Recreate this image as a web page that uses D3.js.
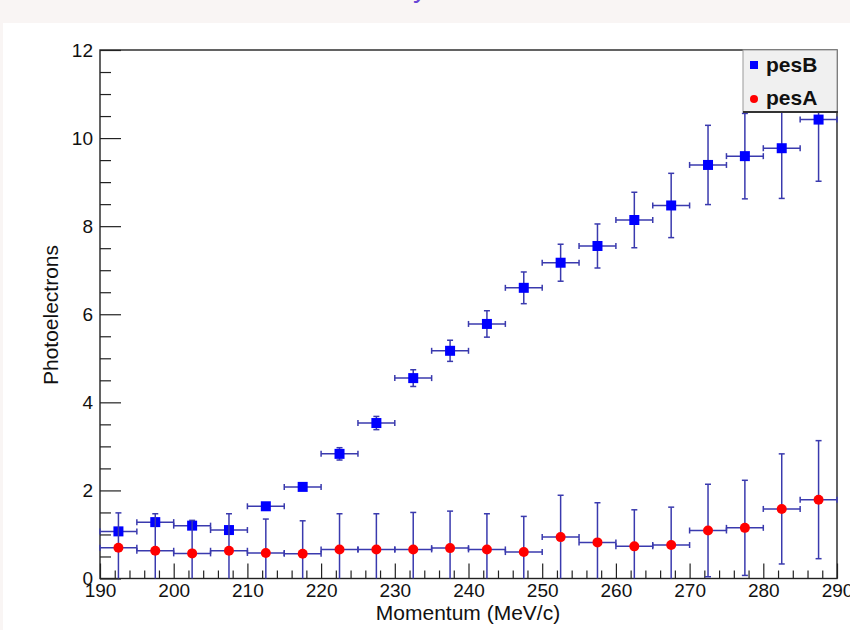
<!DOCTYPE html>
<html>
<head>
<meta charset="utf-8">
<script src="https://cdn.jsdelivr.net/npm/d3@7"></script>
<style>
  html, body { margin: 0; padding: 0; background: #f9f5f4; }
  svg { display: block; font-family: "Liberation Sans", Arial, Helvetica, sans-serif; }
</style>
</head>
<body>
<div id="chart"></div>
<script>
// bin centres (MeV/c), bin half width 2.5
const momentum = [192.5, 197.5, 202.5, 207.5, 212.5, 217.5, 222.5, 227.5, 232.5, 237.5,
  242.5, 247.5, 252.5, 257.5, 262.5, 267.5, 272.5, 277.5, 282.5, 287.5];
const binHalf = 2.5;

const pesB = [1.07, 1.28, 1.20, 1.10, 1.64, 2.08, 2.83, 3.53, 4.55, 5.17,
  5.78, 6.60, 7.17, 7.55, 8.14, 8.47, 9.39, 9.59, 9.77, 10.42];
const pesBErr = [0.08, 0.08, 0.08, 0.08, 0.06, 0.06, 0.14, 0.15, 0.19, 0.24,
  0.30, 0.36, 0.42, 0.50, 0.63, 0.73, 0.90, 0.97, 1.14, 1.40];

const pesA = [0.70, 0.63, 0.57, 0.63, 0.58, 0.56, 0.66, 0.66, 0.66, 0.69,
  0.66, 0.60, 0.94, 0.82, 0.73, 0.76, 1.09, 1.15, 1.58, 1.79];
const pesAErr = [0.79, 0.84, 0.75, 0.84, 0.77, 0.75, 0.81, 0.81, 0.84, 0.84,
  0.81, 0.81, 0.95, 0.90, 0.83, 0.86, 1.05, 1.08, 1.25, 1.34];

const xMajor = [190, 200, 210, 220, 230, 240, 250, 260, 270, 280, 290];
const yMajor = [0, 2, 4, 6, 8, 10, 12];

const svg = d3.select("#chart").append("svg")
  .attr("width", 850)
  .attr("height", 630);

// white canvas of the slide
svg.append("rect")
  .attr("x", 3).attr("y", 23)
  .attr("width", 847).attr("height", 607)
  .attr("fill", "#fff");

// bit of the slide title that is cut off at the top
svg.append("text")
  .attr("x", 413).attr("y", -3)
  .attr("font-size", 28)
  .attr("fill", "#6846d6")
  .text("y");

const x = d3.scaleLinear().domain([190, 290]).range([100, 837]);
const y = d3.scaleLinear().domain([0, 12]).range([578.5, 50]);

// minor ticks
const yMinor = d3.range(0, 12, 0.5).filter((v) => v % 2 !== 0);
const xMinor = d3.range(190, 290, 2).filter((v) => v % 10 !== 0);

svg.append("g")
  .attr("transform", "translate(100,0)")
  .call(d3.axisLeft(y).tickValues(yMinor).tickSize(-11).tickFormat(""))
  .call((g) => g.select(".domain").remove());

svg.append("g")
  .attr("transform", "translate(0,578.5)")
  .call(d3.axisBottom(x).tickValues(xMinor).tickSize(-8).tickFormat(""))
  .call((g) => g.select(".domain").remove());

// major ticks + labels
const yAxis = svg.append("g")
  .attr("transform", "translate(100,0)")
  .call(d3.axisLeft(y).tickValues(yMajor).tickSize(-21).tickPadding(7))
  .call((g) => g.select(".domain").remove());

const xAxis = svg.append("g")
  .attr("transform", "translate(0,578.5)")
  .call(d3.axisBottom(x).tickValues(xMajor).tickSize(-15).tickPadding(5))
  .call((g) => g.select(".domain").remove());

svg.selectAll(".tick line").attr("stroke", "#222").attr("stroke-width", 1.2);
[xAxis, yAxis].forEach((a) =>
  a.selectAll("text")
    .attr("font-family", "Liberation Sans, Arial, sans-serif")
    .attr("font-size", 19)
    .attr("fill", "#111")
);

// frame
svg.append("rect")
  .attr("x", 100).attr("y", 50)
  .attr("width", 737).attr("height", 528.5)
  .attr("fill", "none")
  .attr("stroke", "#222")
  .attr("stroke-width", 1.4);

// axis titles
svg.append("text")
  .attr("x", 468).attr("y", 620)
  .attr("text-anchor", "middle")
  .attr("font-size", 21)
  .attr("fill", "#111")
  .text("Momentum (MeV/c)");

svg.append("text")
  .attr("transform", "translate(58,315) rotate(-90)")
  .attr("text-anchor", "middle")
  .attr("font-size", 21)
  .attr("fill", "#111")
  .text("Photoelectrons");

// error bars + markers
const errColor = "#3a3aae";
const cap = 3;

function drawSeries(values, errs, marker) {
  const rows = momentum.map((m, i) => ({ m: m, v: values[i], e: errs[i] }));
  const g = svg.append("g");

  const eb = g.selectAll(".eb").data(rows).enter().append("g")
    .attr("stroke", errColor)
    .attr("stroke-width", 1.5)
    .attr("fill", "none");

  // horizontal (bin width)
  eb.append("line")
    .attr("x1", (d) => x(d.m - binHalf)).attr("x2", (d) => x(d.m + binHalf))
    .attr("y1", (d) => y(d.v)).attr("y2", (d) => y(d.v));
  eb.append("line")
    .attr("x1", (d) => x(d.m - binHalf)).attr("x2", (d) => x(d.m - binHalf))
    .attr("y1", (d) => y(d.v) - cap).attr("y2", (d) => y(d.v) + cap);
  eb.append("line")
    .attr("x1", (d) => x(d.m + binHalf)).attr("x2", (d) => x(d.m + binHalf))
    .attr("y1", (d) => y(d.v) - cap).attr("y2", (d) => y(d.v) + cap);

  // vertical (error), clipped at the frame
  const lo = (d) => y(Math.max(0, d.v - d.e));
  const hi = (d) => y(Math.min(12, d.v + d.e));
  eb.append("line")
    .attr("x1", (d) => x(d.m)).attr("x2", (d) => x(d.m))
    .attr("y1", lo).attr("y2", hi);
  eb.filter((d) => d.v + d.e < 12).append("line")
    .attr("x1", (d) => x(d.m) - cap).attr("x2", (d) => x(d.m) + cap)
    .attr("y1", hi).attr("y2", hi);
  eb.filter((d) => d.v - d.e > 0).append("line")
    .attr("x1", (d) => x(d.m) - cap).attr("x2", (d) => x(d.m) + cap)
    .attr("y1", lo).attr("y2", lo);

  if (marker === "square") {
    g.selectAll(".pt").data(rows).enter().append("rect")
      .attr("x", (d) => x(d.m) - 5).attr("y", (d) => y(d.v) - 5)
      .attr("width", 10).attr("height", 10)
      .attr("fill", "#0000ff");
  } else {
    g.selectAll(".pt").data(rows).enter().append("circle")
      .attr("cx", (d) => x(d.m)).attr("cy", (d) => y(d.v))
      .attr("r", 5)
      .attr("fill", "#ff0000");
  }
}

drawSeries(pesB, pesBErr, "square");
drawSeries(pesA, pesAErr, "circle");

// legend
const legend = svg.append("g");
legend.append("rect")
  .attr("x", 743).attr("y", 50)
  .attr("width", 94).attr("height", 62)
  .attr("fill", "#f0f0f0")
  .attr("stroke", "#999")
  .attr("stroke-width", 1);
legend.append("line")
  .attr("x1", 743).attr("x2", 838)
  .attr("y1", 112).attr("y2", 112)
  .attr("stroke", "#333")
  .attr("stroke-width", 2);

legend.append("rect")
  .attr("x", 750).attr("y", 61)
  .attr("width", 8).attr("height", 8)
  .attr("fill", "#0000ff");
legend.append("circle")
  .attr("cx", 754).attr("cy", 99)
  .attr("r", 4)
  .attr("fill", "#ff0000");

legend.selectAll(".lt").data(["pesB", "pesA"]).enter().append("text")
  .attr("x", 766)
  .attr("y", (d, i) => 72 + i * 33)
  .attr("font-size", 21)
  .attr("font-weight", "bold")
  .attr("fill", "#111")
  .text((d) => d);
</script>
</body>
</html>
